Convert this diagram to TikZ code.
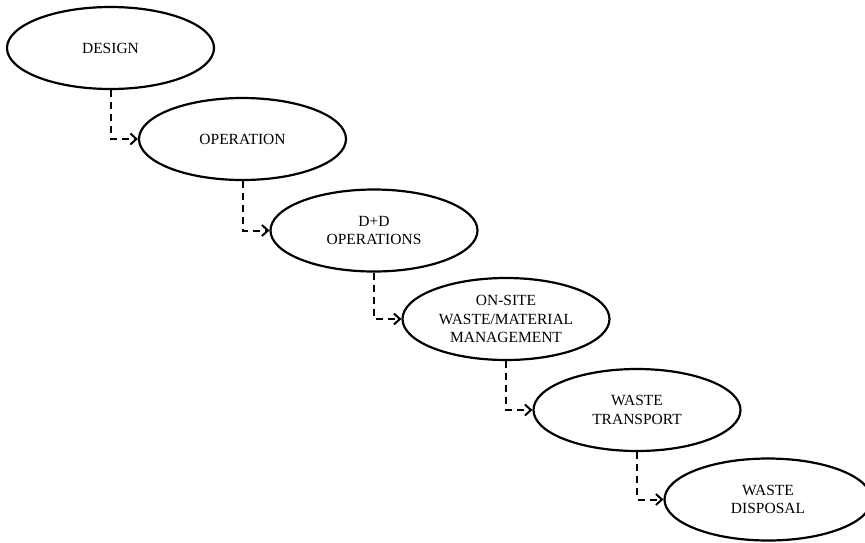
\documentclass[tikz,border=0pt]{standalone}
\usepackage{fontspec}
\setmainfont{Liberation Serif}
\usetikzlibrary{shapes.geometric,arrows.meta}
\begin{document}
\begin{tikzpicture}[x=1pt,y=-1pt,
  stage/.style={ellipse,draw,line width=2.2pt,minimum width=207pt,minimum height=82pt,inner sep=0pt,align=center,font=\fontsize{15.5}{18.5}\selectfont},
  conn/.style={line width=2pt,dash pattern=on 7pt off 5pt,-{Straight Barb[length=6pt,width=11pt]}}]
\useasboundingbox (0,0) rectangle (865,542);
\node[stage] (e1) at (110.5,48) {DESIGN};
\node[stage] (e2) at (242.5,139) {OPERATION};
\node[stage] (e3) at (374,230.5) {D+D\\OPERATIONS};
\node[stage] (e4) at (506,319) {ON-SITE\\WASTE/MATERIAL\\MANAGEMENT};
\node[stage] (e5) at (637,410) {WASTE\\TRANSPORT};
\node[stage] (e6) at (768,499.5) {WASTE\\DISPOSAL};
\draw[conn] (e1.south) |- (e2.west);
\draw[conn] (e2.south) |- (e3.west);
\draw[conn] (e3.south) |- (e4.west);
\draw[conn] (e4.south) |- (e5.west);
\draw[conn] (e5.south) |- (e6.west);
\end{tikzpicture}
\end{document}
